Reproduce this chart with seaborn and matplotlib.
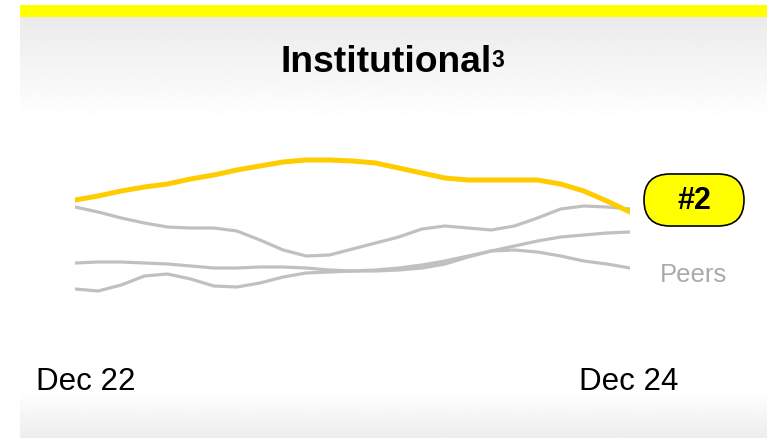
"""
Institutional ranking sparkline: our score vs. peers, Dec 22 - Dec 24
"""

import numpy as np
import pandas as pd
import matplotlib
matplotlib.use('Agg')
import matplotlib.pyplot as plt
from matplotlib.patches import FancyBboxPatch, Rectangle
from matplotlib.transforms import ScaledTranslation
import seaborn as sns

# Data (monthly index scores)
months = list(range(25))
ours = [130, 134, 139, 143, 146, 151, 155, 160, 164, 168, 170, 170, 169,
        167, 162, 157, 152, 150, 150, 150, 150, 146, 139, 129, 118]
peer_a = [123, 118, 112, 107, 103, 102, 102, 99, 90, 80, 74, 75, 81,
          87, 93, 101, 104, 102, 100, 104, 112, 121, 124, 123, 121]
peer_b = [67, 68, 68, 67, 66, 64, 62, 62, 63, 63, 62, 60, 59,
          59, 60, 62, 66, 73, 79, 84, 89, 93, 95, 97, 98]
peer_c = [41, 39, 45, 54, 56, 51, 44, 43, 47, 53, 57, 58, 59,
          60, 62, 65, 69, 74, 79, 80, 78, 74, 69, 66, 62]
tick_positions = [0, 24]
tick_labels = ['Dec 22', 'Dec 24']
rank_label = '#2'
peers_label = 'Peers'
title = 'Institutional'
footnote = '3'

W, H = 767, 438
YELLOW = '#FFFF00'
GOLD = '#FFCC00'
GRAY = '#C0C0C0'

sns.set_theme(style='white')
plt.rcParams['font.family'] = ['Liberation Sans', 'DejaVu Sans']

fig = plt.figure(figsize=(W / 100, H / 100), dpi=100)

# Background panel in pixel coordinates
bg = fig.add_axes([0, 0, 1, 1], zorder=0)
bg.axis('off')

top_grad = np.linspace(0.92, 1.0, 100).reshape(-1, 1)
bg.imshow(top_grad, cmap='gray', vmin=0, vmax=1, aspect='auto',
          extent=(20, W, 120, 17), interpolation='bilinear')
bot_grad = np.linspace(1.0, 0.93, 50).reshape(-1, 1)
bg.imshow(bot_grad, cmap='gray', vmin=0, vmax=1, aspect='auto',
          extent=(20, W, H, 390), interpolation='bilinear')
bg.add_patch(Rectangle((20, 5), W - 20, 12, color=YELLOW, lw=0))
bg.set_xlim(0, W)
bg.set_ylim(H, 0)

t = bg.text(386, 62, title, ha='center', va='center', fontsize=26.8,
            fontweight='bold', color='black')
bg.annotate(footnote, xy=(1, 1), xycoords=t, xytext=(-0.5, -3),
            textcoords='offset points', ha='left', va='top',
            fontsize=16.5, fontweight='bold', color='black')

# Rank badge
bg.add_patch(FancyBboxPatch((644, 174), 100, 52,
                            boxstyle='round,pad=0,rounding_size=26',
                            fc=YELLOW, ec='black', lw=1.2))
bg.text(694.5, 201, rank_label, ha='center', va='center', fontsize=22,
        fontweight='bold', color='black')
bg.text(694, 275, peers_label, ha='center', va='center', fontsize=18.5,
        color='#AAAAAA')

# Lines
ax = fig.add_axes([75 / W, (H - 300) / H, 555 / W, 150 / H], zorder=1)
ax.patch.set_alpha(0)

peers = pd.DataFrame({
    'month': months * 3,
    'score': peer_a + peer_b + peer_c,
    'series': ['A'] * 25 + ['B'] * 25 + ['C'] * 25,
})
sns.lineplot(data=peers, x='month', y='score', hue='series',
             palette=[GRAY] * 3, legend=False, lw=2.3, ax=ax,
             solid_capstyle='round')
sns.lineplot(x=months, y=ours, color=GOLD, lw=3.6, ax=ax,
             solid_capstyle='round')

ax.set_xlim(0, 24)
ax.set_ylim(30, 180)
ax.set_xlabel('')
ax.set_ylabel('')
ax.set_yticks([])
ax.set_xticks(tick_positions)
ax.set_xticklabels(tick_labels, fontsize=22.5, color='black')
ax.tick_params(axis='x', length=0, pad=48)
for s in ax.spines.values():
    s.set_visible(False)

# nudge the first label right, like the original layout
shifts = [11, -1]
for lab, dx in zip(ax.get_xticklabels(), shifts):
    lab.set_transform(lab.get_transform() +
                      ScaledTranslation(dx / 100, 0, fig.dpi_scale_trans))

fig.savefig('out.png', dpi=100)
plt.close(fig)
